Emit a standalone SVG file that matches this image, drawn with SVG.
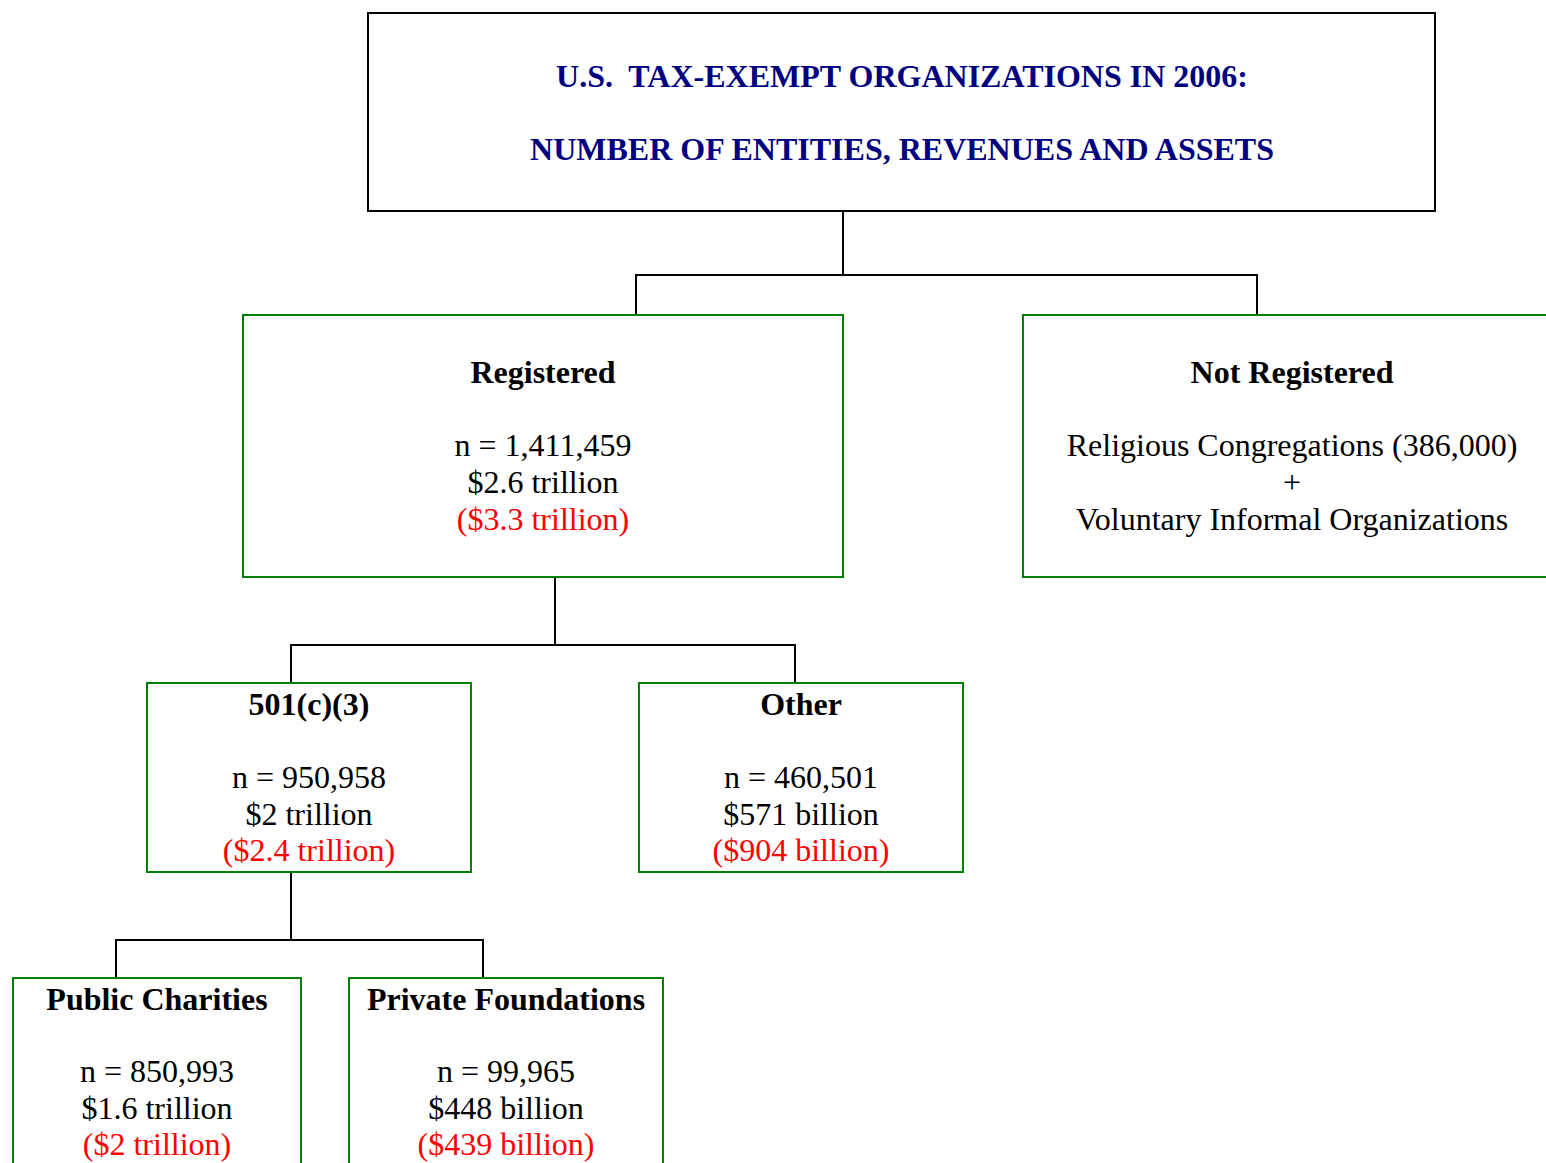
<svg xmlns="http://www.w3.org/2000/svg" width="1546" height="1163" viewBox="0 0 1546 1163">
<style>
text{font-family:"Liberation Serif","Times New Roman",serif;font-size:32px;text-anchor:middle;fill:#000}
.t{fill:#000080;font-weight:bold;white-space:pre}
.b{font-weight:bold}
.r{fill:#ff0000}
.box{fill:#fff;stroke:#008000;stroke-width:2}
.tbox{fill:#fff;stroke:#000;stroke-width:2}
.c{fill:none;stroke:#000;stroke-width:2}
</style>
<rect width="1546" height="1163" fill="#fff"/>
<g id="connectors">
<path class="c" d="M843 212V275M636 315V275H1257V315"/>
<path class="c" d="M555 577V645M291 683V645H795V683"/>
<path class="c" d="M291 872V940M116 978V940H483V978"/>
</g>
<g id="title">
<rect class="tbox" x="368" y="13" width="1067" height="198"/>
<text class="t" x="902" y="87" xml:space="preserve">U.S.  TAX-EXEMPT ORGANIZATIONS IN 2006:</text>
<text class="t" x="902" y="160">NUMBER OF ENTITIES, REVENUES AND ASSETS</text>
</g>
<g id="registered">
<rect class="box" x="243" y="315" width="600" height="262"/>
<text class="b" x="543" y="383">Registered</text>
<text x="543" y="456">n = 1,411,459</text>
<text x="543" y="493">$2.6 trillion</text>
<text class="r" x="543" y="530">($3.3 trillion)</text>
</g>
<g id="not-registered">
<rect class="box" x="1023" y="315" width="540" height="262"/>
<text class="b" x="1292" y="383">Not Registered</text>
<text x="1292" y="456">Religious Congregations (386,000)</text>
<text x="1292" y="493">+</text>
<text x="1292" y="530">Voluntary Informal Organizations</text>
</g>
<g id="c501c3">
<rect class="box" x="147" y="683" width="324" height="189"/>
<text class="b" x="309" y="715">501(c)(3)</text>
<text x="309" y="788">n = 950,958</text>
<text x="309" y="825">$2 trillion</text>
<text class="r" x="309" y="861">($2.4 trillion)</text>
</g>
<g id="other">
<rect class="box" x="639" y="683" width="324" height="189"/>
<text class="b" x="801" y="715">Other</text>
<text x="801" y="788">n = 460,501</text>
<text x="801" y="825">$571 billion</text>
<text class="r" x="801" y="861">($904 billion)</text>
</g>
<g id="public-charities">
<rect class="box" x="13" y="978" width="288" height="200"/>
<text class="b" x="157" y="1010">Public Charities</text>
<text x="157" y="1082">n = 850,993</text>
<text x="157" y="1119">$1.6 trillion</text>
<text class="r" x="157" y="1155">($2 trillion)</text>
</g>
<g id="private-foundations">
<rect class="box" x="349" y="978" width="314" height="200"/>
<text class="b" x="506" y="1010">Private Foundations</text>
<text x="506" y="1082">n = 99,965</text>
<text x="506" y="1119">$448 billion</text>
<text class="r" x="506" y="1155">($439 billion)</text>
</g>
</svg>
